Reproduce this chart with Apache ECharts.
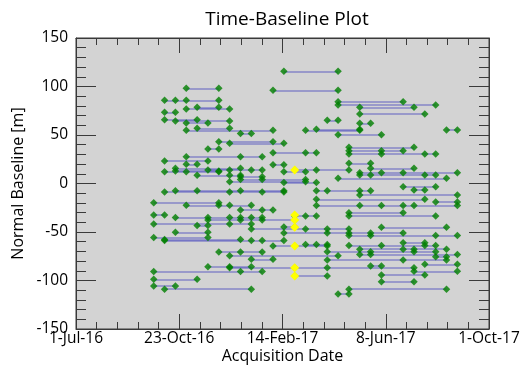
<!DOCTYPE html>
<html>
<head>
<meta charset="utf-8">
<script src="https://cdn.jsdelivr.net/npm/echarts@6/dist/echarts.min.js"></script>
<style>
  html, body { margin: 0; padding: 0; background: #fff; }
  #main { width: 523px; height: 365px; }
</style>
</head>
<body>
<div id="main"></div>
<script>
// acquisition dates (12-day repeat)
const acqDates = [
  '2016-09-25', '2016-10-07', '2016-10-19', '2016-10-31', '2016-11-12', '2016-11-24',
  '2016-12-06', '2016-12-18', '2016-12-30', '2017-01-11', '2017-01-23', '2017-02-04',
  '2017-02-16', '2017-02-28', '2017-03-12', '2017-03-24', '2017-04-05', '2017-04-17',
  '2017-04-29', '2017-05-11', '2017-05-23', '2017-06-04', '2017-06-16', '2017-06-28',
  '2017-07-10', '2017-07-22', '2017-08-03', '2017-08-15', '2017-08-27'
]

// each connection row: normal baseline [m] and the acquisitions (index in acqDates) on it
const rowBaselines = [
  115.7, 98.1, 96.1, 85.8, 84.3, 80.9, 78.6, 78.6, 76.8, 73.4,
  71.6, 65.8, 65.2, 64.4, 62.4, 62.1, 56.9, 55.9, 54.8, 54.8,
  55.2, 51.5, 50.3, 43.1, 41.4, 37.3, 35.6, 33.8, 30.4, 31.8,
  27.6, 23.2, 20.8, 19.8, 19.4, 15.7, 15.7, 13.9, 13.9, 13.0,
  12.2, 12.2, 11.2, 8.8, 8.5, 7.0, 5.4, 4.1, 1.9, 1.0,
  -3.3, -6.7, -7.4, -7.4, -8.8, -11.9, -16.3, -19.8, -19.0, -22.5,
  -22.7, -27.3, -30.1, -32.5, -35.0, -37.6, -33.5, -33.5, -41.8, -43.3,
  -44.8, -47.0, -45.2, -50.3, -51.0, -53.6, -55.7, -58.8, -57.7, -61.0,
  -64.4, -62.9, -63.9, -67.7, -70.3, -70.6, -74.5, -73.2, -75.5, -78.1,
  -78.9, -83.3, -85.8, -86.8, -85.0, -90.7, -90.5, -95.4, -94.3, -98.8,
  -101.2, -105.7, -108.9, -108.9, -113.9
]
const rowEpochs = [
  [12, 17], [3, 6], [11, 17], [1, 2, 3, 6], [17, 23], [17, 26], [4, 6], [19, 24], [3, 7], [1, 2],
  [19, 25], [1, 4], [16, 17], [2, 7], [3, 5], [19, 20], [4, 7], [15, 19], [3, 11], [14, 19],
  [27, 28], [8, 9], [17, 21], [6, 11], [7, 12], [18, 24], [5, 6], [18, 21, 23], [18, 21, 25, 26], [11, 14, 15],
  [3, 8, 10], [1, 5], [18, 20], [3, 4], [11, 12], [2, 8], [20, 24], [5, 7, 9, 10], [13, 15, 18], [2, 6],
  [1, 3, 6], [12, 14], [19, 21, 23, 28], [19, 20, 25, 26], [4, 7, 8], [8, 10], [17, 27], [8, 10, 14], [7, 14], [12, 15],
  [23, 26], [24, 25], [2, 4, 8, 12], [15, 16, 19, 20], [1, 7, 10, 12], [19, 28], [15, 25], [0, 6], [26, 28], [3, 6, 7, 9],
  [15, 19, 21, 23, 24, 28], [8, 10, 11], [18, 23], [0, 1], [2, 5, 7, 8, 9, 10], [5, 8, 10, 13], [13, 14, 15], [18, 26], [0, 7, 9], [4, 5],
  [12, 13], [9, 14, 16, 18], [21, 27], [2, 5], [12, 16, 18, 20, 23], [18, 20, 26, 28], [0, 5], [1, 9, 10, 12], [1, 8], [23, 25],
  [11, 13, 16], [14, 15, 16], [18, 21, 25, 26], [19, 23, 24, 27], [16, 20, 24, 26], [6, 8, 10], [7, 17], [19, 20, 28], [26, 27], [9, 11],
  [16, 23, 27], [25, 28], [5, 7, 9], [7, 13, 16, 24], [20, 21], [0, 8, 10], [24, 28], [13, 16], [21, 25], [0, 4],
  [21, 24], [0, 2], [1, 9], [18, 27], [17, 18]
]

// super master acquisition
const masterDate = '2017-02-28'
const masterBaselines = [13.9, -32.5, -37.6, -45.2, -64.4, -86.8, -95.4]

// x axis: days from 1-Jul-16 to 1-Oct-17
const axisStart = '2016-07-01'
const axisEnd = '2017-10-01'
const xTickStep = 114.25
const yTicks = { min: -150, max: 150, step: 50 }

const MONTHS = ['Jan', 'Feb', 'Mar', 'Apr', 'May', 'Jun', 'Jul', 'Aug', 'Sep', 'Oct', 'Nov', 'Dec']
const toUTC = (s) => {
  const p = s.split('-').map(Number)
  return Date.UTC(p[0], p[1] - 1, p[2])
}
const DAY = 86400000
const t0 = toUTC(axisStart)
const dayOf = (s) => (toUTC(s) - t0) / DAY
const fmtDay = (v) => {
  const d = new Date(t0 + Math.floor(v + 1e-6) * DAY)
  return d.getUTCDate() + '-' + MONTHS[d.getUTCMonth()] + '-' + String(d.getUTCFullYear()).slice(2)
}

const linesData = []
const greenPts = []
rowBaselines.forEach((b, i) => {
  const ep = rowEpochs[i]
  const xs = ep.map((k) => dayOf(acqDates[k]))
  linesData.push({ coords: [[Math.min(...xs), b], [Math.max(...xs), b]] })
  xs.forEach((x) => greenPts.push([x, b]))
})
const yellowPts = masterBaselines.map((b) => [dayOf(masterDate), b])

const FONT = "'Open Sans', 'Noto Sans', sans-serif"
const axisColor = '#3a3a3a'

const xBase = {
  type: 'value',
  min: 0,
  max: dayOf(axisEnd),
  interval: xTickStep,
  axisLine: { show: true, onZero: false, lineStyle: { color: axisColor, width: 1 } },
  axisTick: { show: true, inside: true, length: 15, lineStyle: { color: axisColor } },
  minorTick: { show: true, splitNumber: 5, length: 7, lineStyle: { color: axisColor } },
  splitLine: { show: false },
  minorSplitLine: { show: false }
}
const yBase = {
  type: 'value',
  min: yTicks.min,
  max: yTicks.max,
  interval: yTicks.step,
  axisLine: { show: true, onZero: false, lineStyle: { color: axisColor, width: 1 } },
  axisTick: { show: true, inside: true, length: 20, lineStyle: { color: axisColor } },
  minorTick: { show: true, splitNumber: 5, length: 10, lineStyle: { color: axisColor } },
  splitLine: { show: false },
  minorSplitLine: { show: false }
}

const chart = echarts.init(document.getElementById('main'))
chart.setOption({
  animation: false,
  backgroundColor: '#ffffff',
  title: {
    text: 'Time-Baseline Plot',
    left: 282,
    textAlign: 'center',
    top: 5,
    textStyle: { fontFamily: FONT, fontSize: 19, fontWeight: 'normal', color: '#000' }
  },
  grid: {
    left: 76, right: 34, top: 38, bottom: 36,
    outerBoundsMode: 'none',
    containLabel: false,
    show: true, backgroundColor: '#d3d3d3', borderColor: axisColor, borderWidth: 1
  },
  xAxis: [
    Object.assign({}, xBase, {
      position: 'bottom',
      name: 'Acquisition Date',
      nameLocation: 'middle',
      nameGap: 19,
      nameMoveOverlap: false,
      nameTextStyle: { fontFamily: FONT, fontSize: 16, color: '#000' },
      axisLabel: { fontFamily: FONT, fontSize: 15.5, color: '#000', margin: 2, formatter: fmtDay }
    }),
    Object.assign({}, xBase, { position: 'top', axisLabel: { show: false } })
  ],
  yAxis: [
    Object.assign({}, yBase, {
      position: 'left',
      name: 'Normal Baseline [m]',
      nameLocation: 'middle',
      nameGap: 50,
      nameMoveOverlap: false,
      nameTextStyle: { fontFamily: FONT, fontSize: 16, color: '#000' },
      axisLabel: { fontFamily: FONT, fontSize: 15.5, color: '#000', margin: 8 }
    }),
    Object.assign({}, yBase, { position: 'right', axisLabel: { show: false } })
  ],
  series: [
    {
      type: 'lines',
      coordinateSystem: 'cartesian2d',
      xAxisIndex: 0, yAxisIndex: 0,
      silent: true,
      lineStyle: { color: 'rgba(60,60,190,0.5)', width: 1.5, opacity: 1 },
      data: linesData,
      z: 2
    },
    {
      type: 'scatter',
      xAxisIndex: 0, yAxisIndex: 0,
      symbol: 'diamond',
      symbolSize: 7.5,
      itemStyle: { color: '#008000' },
      data: greenPts,
      z: 3
    },
    {
      type: 'scatter',
      xAxisIndex: 0, yAxisIndex: 0,
      symbol: 'diamond',
      symbolSize: 9,
      itemStyle: { color: '#ffff00', opacity: 1 },
      data: yellowPts,
      z: 4
    }
  ]
})
</script>
</body>
</html>
